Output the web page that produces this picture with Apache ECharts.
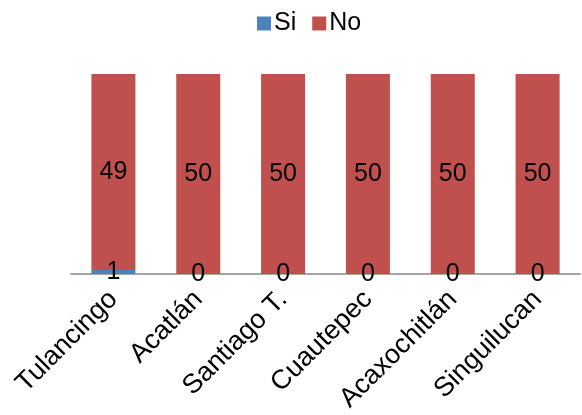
<!DOCTYPE html>
<html>
<head>
<meta charset="utf-8">
<script src="https://cdn.jsdelivr.net/npm/echarts@6/dist/echarts.min.js"></script>
<style>
  html, body { margin: 0; padding: 0; background: #fff; }
  #chart { width: 582px; height: 415px; }
</style>
</head>
<body>
<div id="chart"></div>
<script>
// Municipalities and answer counts
const categories = ['Tulancingo', 'Acatlán', 'Santiago T.', 'Cuautepec', 'Acaxochitlán', 'Singuilucan'];
const siValues = [1, 0, 0, 0, 0, 0];
const noValues = [49, 50, 50, 50, 50, 50];

const FONT = '"Liberation Sans", Arial, sans-serif';

const chart = echarts.init(document.getElementById('chart'), null, { renderer: 'canvas' });

const labelStyle = {
  show: true,
  position: 'inside',
  color: '#000',
  fontFamily: FONT,
  fontSize: 25
};

chart.setOption({
  animation: false,
  backgroundColor: '#fff',
  legend: {
    left: 252,
    top: 6,
    itemWidth: 14,
    itemHeight: 14,
    itemGap: 16,
    icon: 'rect',
    textStyle: { fontFamily: FONT, fontSize: 25, color: '#000', padding: [0, 0, 0, -2] },
    data: ['Si', 'No']
  },
  grid: { left: 71, right: 2, top: 74, bottom: 139 },
  xAxis: {
    type: 'category',
    data: categories,
    axisLine: { show: true, lineStyle: { color: '#a6a6a6', width: 2 } },
    axisTick: { show: false },
    axisLabel: {
      rotate: 45,
      interval: 0,
      margin: 21,
      fontFamily: FONT,
      fontSize: 27,
      color: '#000'
    }
  },
  yAxis: {
    type: 'value',
    min: 0,
    max: 50,
    show: false,
    splitLine: { show: false }
  },
  series: [
    {
      name: 'Si',
      type: 'bar',
      stack: 'total',
      barWidth: 44,
      itemStyle: { color: '#4F81BD' },
      label: labelStyle,
      data: siValues,
      z: 3
    },
    {
      name: 'No',
      type: 'bar',
      stack: 'total',
      barWidth: 44,
      itemStyle: { color: '#C0504D' },
      label: labelStyle,
      data: noValues,
      z: 2
    }
  ]
});
</script>
</body>
</html>
